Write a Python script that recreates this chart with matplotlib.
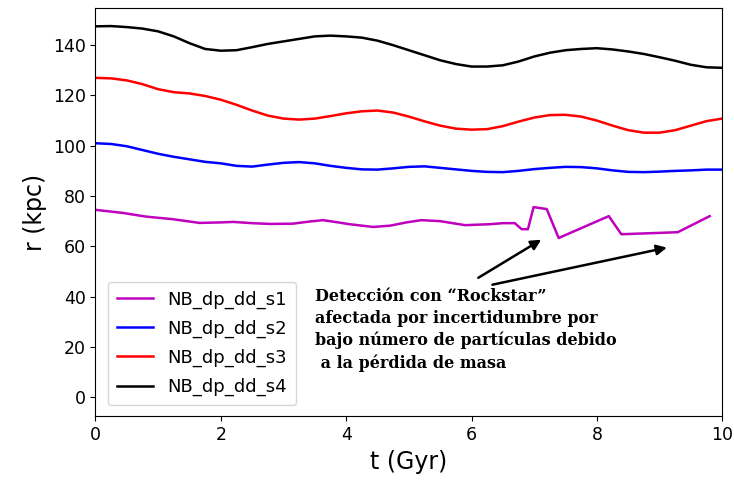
import matplotlib
matplotlib.use("Agg")
import numpy as np
import matplotlib.pyplot as plt

# Halo radius vs time for four runs
t_grid = np.arange(0, 10.01, 0.25)

t_s1 = [0.0, 0.43, 0.81, 1.23, 1.66, 2.0, 2.2, 2.5, 2.78, 3.15, 3.4, 3.63, 3.85, 4.05,
        4.43, 4.7, 4.96, 5.2, 5.5, 5.9, 6.3, 6.5, 6.69, 6.8, 6.9, 6.99, 7.2, 7.39,
        8.19, 8.39, 9.29, 9.8]
r_s1 = [74.5, 73.3, 71.8, 70.8, 69.3, 69.5, 69.7, 69.2, 68.9, 69.0, 69.8, 70.4, 69.6, 68.8,
        67.7, 68.2, 69.5, 70.4, 70.0, 68.4, 68.8, 69.2, 69.2, 66.8, 66.8, 75.6, 74.8, 63.3,
        72.0, 64.8, 65.6, 72.0]

r_s2 = [101.0, 100.7, 99.8, 98.3, 96.8, 95.6, 94.6, 93.6, 93.0, 92.0, 91.7, 92.5, 93.2, 93.5,
        93.0, 92.0, 91.2, 90.6, 90.5, 91.0, 91.6, 91.8, 91.2, 90.6, 90.0, 89.6, 89.5, 90.0,
        90.7, 91.2, 91.6, 91.5, 91.0, 90.2, 89.6, 89.5, 89.7, 90.0, 90.2, 90.5, 90.5]

r_s3 = [127.0, 126.8, 126.0, 124.5, 122.5, 121.3, 120.8, 119.8, 118.3, 116.3, 114.0, 112.0,
        110.8, 110.4, 110.8, 111.8, 112.9, 113.7, 114.0, 113.2, 111.6, 109.7, 108.0, 106.8,
        106.4, 106.6, 107.8, 109.6, 111.2, 112.2, 112.3, 111.6, 110.0, 108.0, 106.2, 105.2,
        105.2, 106.2, 108.0, 109.8, 110.8]

r_s4 = [147.5, 147.6, 147.2, 146.6, 145.5, 143.5, 140.8, 138.5, 137.8, 138.0, 139.2, 140.5,
        141.5, 142.5, 143.5, 143.8, 143.5, 143.0, 141.8, 140.0, 138.0, 136.0, 134.0, 132.5,
        131.5, 131.5, 132.0, 133.5, 135.5, 137.0, 138.0, 138.5, 138.8, 138.3, 137.5, 136.5,
        135.2, 133.8, 132.2, 131.2, 131.0]

labels = ["NB_dp_dd_s1", "NB_dp_dd_s2", "NB_dp_dd_s3", "NB_dp_dd_s4"]
note = ("Detección con “Rockstar”\n"
        "afectada por incertidumbre por\n"
        "bajo número de partículas debido\n"
        " a la pérdida de masa")

fig, ax = plt.subplots(figsize=(7.34, 4.84), dpi=100)
fig.subplots_adjust(left=0.13, right=0.984, top=0.983, bottom=0.14)

ax.plot(t_s1, r_s1, color="m", lw=1.8, label=labels[0])
ax.plot(t_grid, r_s2, color="b", lw=1.8, label=labels[1])
ax.plot(t_grid, r_s3, color="r", lw=1.8, label=labels[2])
ax.plot(t_grid, r_s4, color="k", lw=1.8, label=labels[3])

ax.set_xlim(0, 10)
ax.set_ylim(-7.6, 154.7)
ax.set_xlabel("t (Gyr)", fontsize=17)
ax.set_ylabel("r (kpc)", fontsize=17)
ax.tick_params(labelsize=12.5)
ax.legend(loc="lower left", fontsize=13, bbox_to_anchor=(0.005, 0.005),
          labelspacing=0.6, borderpad=0.5)

# annotation pointing at the Rockstar glitches
ax.text(3.51, 43.5, note, fontsize=11.5, fontweight="bold", family="DejaVu Serif",
        va="top", ha="left", linespacing=1.38)
arrow = dict(arrowstyle="-|>", color="k", lw=1.8, mutation_scale=15)
ax.annotate("", xy=(7.15, 63.2), xytext=(6.07, 46.9), arrowprops=arrow)
ax.annotate("", xy=(9.16, 59.7), xytext=(6.29, 44.5), arrowprops=arrow)

fig.savefig("out.png", dpi=100)
